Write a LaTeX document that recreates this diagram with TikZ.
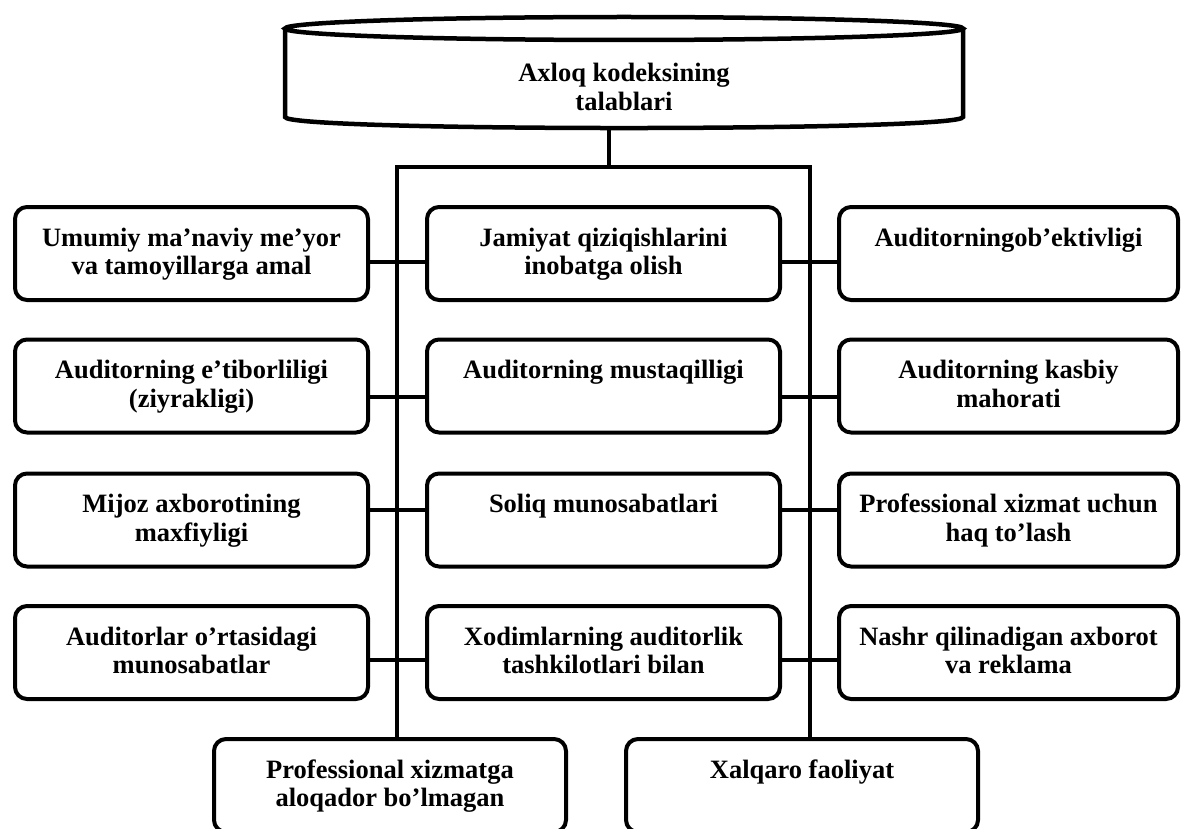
\documentclass[tikz,border=0pt]{standalone}
\usepackage{fontspec}
\setmainfont{Liberation Serif}
\newcommand\boxtxt[2]{\parbox[c][93pt][t]{#1}{\centering\rule{0pt}{39pt}#2}}
\begin{document}
\begin{tikzpicture}[x=1pt,y=-1pt,
  every node/.style={font=\bfseries\fontsize{26.5}{28.5}\selectfont},
  box/.style={draw, line width=4pt, rounded corners=12pt, minimum height=93pt, inner sep=0pt, fill=white},
  conn/.style={line width=4pt},
  cylline/.style={line width=4.5pt}]
\useasboundingbox (0,0) rectangle (1182,829);
\fill[white] (0,0) rectangle (1182,829);
\clip (0,0) rectangle (1182,829);

% header cylinder
\draw[cylline, fill=white] (285,28.5) -- (285,117) .. controls (285,131.7) and (963,131.7) .. (963,117) -- (963,28.5);
\draw[cylline] (624,28.5) ellipse [x radius=339pt, y radius=11.5pt];
\node[align=center] (cyl) at (624,87) {Axloq kodeksining\\talablari};

% trunk
\coordinate (cylB) at (609,127);
\coordinate (stem) at (609,167);
\coordinate (barL) at (397,167);
\coordinate (barR) at (810,167);

% boxes
\node[box, minimum width=353pt] (L1) at (191.5,253.5) {\boxtxt{340pt}{Umumiy ma’naviy me’yor\\va tamoyillarga amal}};
\node[box, minimum width=353pt] (M1) at (603.5,253.5) {\boxtxt{340pt}{Jamiyat qiziqishlarini\\inobatga olish}};
\node[box, minimum width=339pt] (R1) at (1008.5,253.5) {\boxtxt{330pt}{Auditorningob’ektivligi}};

\node[box, minimum width=353pt] (L2) at (191.5,386) {\boxtxt{340pt}{Auditorning e’tiborliligi\\(ziyrakligi)}};
\node[box, minimum width=353pt] (M2) at (603.5,386) {\boxtxt{340pt}{Auditorning mustaqilligi}};
\node[box, minimum width=339pt] (R2) at (1008.5,386) {\boxtxt{330pt}{Auditorning kasbiy\\mahorati}};

\node[box, minimum width=353pt] (L3) at (191.5,520) {\boxtxt{340pt}{Mijoz axborotining\\maxfiyligi}};
\node[box, minimum width=353pt] (M3) at (603.5,520) {\boxtxt{340pt}{Soliq munosabatlari}};
\node[box, minimum width=339pt] (R3) at (1008.5,520) {\boxtxt{330pt}{Professional xizmat uchun\\haq to’lash}};

\node[box, minimum width=353pt] (L4) at (191.5,652.5) {\boxtxt{340pt}{Auditorlar o’rtasidagi\\munosabatlar}};
\node[box, minimum width=353pt] (M4) at (603.5,652.5) {\boxtxt{340pt}{Xodimlarning auditorlik\\tashkilotlari bilan}};
\node[box, minimum width=339pt] (R4) at (1008.5,652.5) {\boxtxt{330pt}{Nashr qilinadigan axborot\\va reklama}};

\node[box, minimum width=352pt] (B1) at (390,785.5) {\boxtxt{340pt}{Professional xizmatga\\aloqador bo’lmagan}};
\node[box, minimum width=352pt] (B2) at (802,785.5) {\boxtxt{340pt}{Xalqaro faoliyat}};

% connectors
\draw[conn] (cylB) -- (stem);
\draw[conn] (barL |- B1.north) -- (barL) -- (barR) -- (barR |- B2.north);

\draw[conn] ([yshift=-8.5pt]L1.east) -- ([yshift=-8.5pt]M1.west);
\draw[conn] ([yshift=-8.5pt]M1.east) -- ([yshift=-8.5pt]R1.west);
\draw[conn] ([yshift=-11pt]L2.east) -- ([yshift=-11pt]M2.west);
\draw[conn] ([yshift=-11pt]M2.east) -- ([yshift=-11pt]R2.west);
\draw[conn] ([yshift=10pt]L3.east) -- ([yshift=10pt]M3.west);
\draw[conn] ([yshift=10pt]M3.east) -- ([yshift=10pt]R3.west);
\draw[conn] ([yshift=-7.5pt]L4.east) -- ([yshift=-7.5pt]M4.west);
\draw[conn] ([yshift=-7.5pt]M4.east) -- ([yshift=-7.5pt]R4.west);
\end{tikzpicture}
\end{document}
